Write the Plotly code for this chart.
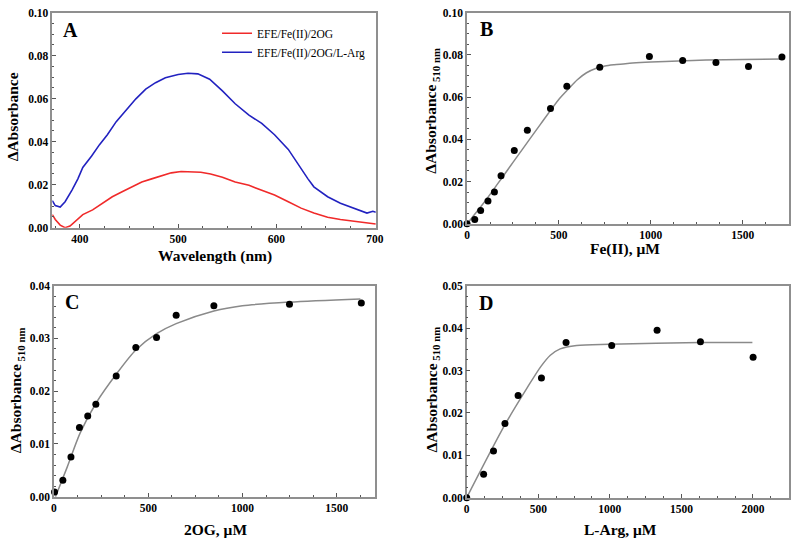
import plotly.graph_objects as go

# ---------------- Panel A: difference spectra ----------------
spec_nm_blue = [372, 375, 380, 385, 392, 398, 403, 412, 420, 428, 437, 447, 457, 467, 477, 487,
                500, 510, 520, 532, 545, 558, 572, 585, 598, 612, 625, 632, 638, 645, 652, 665,
                678, 692, 698, 701]
spec_blue = [0.0126, 0.0103, 0.0096, 0.0121, 0.0175, 0.0227, 0.0280, 0.0333, 0.0386, 0.0432,
             0.0493, 0.0545, 0.0599, 0.0644, 0.0674, 0.0697, 0.0712, 0.0718, 0.0715, 0.0690,
             0.0636, 0.0576, 0.0523, 0.0485, 0.0432, 0.0364, 0.0273, 0.0227, 0.0190, 0.0167,
             0.0144, 0.0114, 0.0091, 0.0068, 0.0076, 0.0072]
spec_nm_red = [372, 375, 380, 385, 390, 397, 403, 413, 423, 433, 443, 453, 463, 473, 483, 493,
               503, 513, 523, 533, 545, 558, 572, 585, 598, 612, 625, 638, 652, 665, 678, 692,
               698, 701]
spec_red = [0.0061, 0.0038, 0.0012, 0.0000, 0.0008, 0.0038, 0.0061, 0.0083, 0.0114, 0.0144,
            0.0167, 0.0189, 0.0212, 0.0227, 0.0242, 0.0255, 0.0261, 0.0258, 0.0258, 0.0250,
            0.0235, 0.0212, 0.0197, 0.0174, 0.0152, 0.0121, 0.0091, 0.0068, 0.0049, 0.0038,
            0.0030, 0.0023, 0.0018, 0.0017]

# ---------------- Panel B: Fe(II) titration ----------------
fe_conc = [0, 42, 74, 114, 149, 185, 257, 328, 454, 543, 722, 992, 1173, 1354, 1531, 1713]
fe_abs = [0.0000, 0.0020, 0.0063, 0.0108, 0.0151, 0.0227, 0.0347, 0.0443, 0.0546, 0.0651,
          0.0741, 0.0792, 0.0773, 0.0764, 0.0745, 0.0789]
fe_fit_x = [0, 100, 200, 300, 400, 500, 550, 600, 650, 700, 750, 800, 850, 900, 1000, 1150,
            1300, 1500, 1715]
fe_fit_y = [0.0000, 0.0109, 0.0230, 0.0351, 0.0472, 0.0590, 0.0637, 0.0682, 0.0715, 0.0735,
            0.0747, 0.0753, 0.0757, 0.0761, 0.0766, 0.0771, 0.0775, 0.0778, 0.0780]

# ---------------- Panel C: 2OG titration ----------------
og_conc = [3, 47, 90, 135, 179, 222, 330, 434, 544, 648, 848, 1249, 1630]
og_abs = [0.0009, 0.0031, 0.0075, 0.0131, 0.0153, 0.0175, 0.0229, 0.0283, 0.0302, 0.0344,
          0.0362, 0.0365, 0.0367]
og_fit_x = [8, 70, 139, 226, 330, 434, 544, 648, 848, 999, 1249, 1625]
og_fit_y = [0.0000, 0.0056, 0.0121, 0.0179, 0.0232, 0.0278, 0.0309, 0.0328, 0.0352, 0.0362,
            0.0369, 0.0375]

# ---------------- Panel D: L-Arg titration ----------------
arg_conc = [0, 118, 187, 267, 359, 522, 694, 1013, 1330, 1633, 2001]
arg_abs = [0.0000, 0.0055, 0.0110, 0.0175, 0.0241, 0.0282, 0.0366, 0.0359, 0.0395, 0.0368, 0.0331]
arg_fit_x = [0, 267, 424, 515, 584, 653, 768, 997, 1633, 1996]
arg_fit_y = [0.0000, 0.0172, 0.0260, 0.0308, 0.0336, 0.0351, 0.0359, 0.0362, 0.0366, 0.0366]

# ---------------- labels ----------------
legend_names = ["EFE/Fe(II)/2OG", "EFE/Fe(II)/2OG/L-Arg"]
panel_letters = ["A", "B", "C", "D"]
x_titles = ["Wavelength (nm)", "Fe(II), μM", "2OG, μM", "L-Arg, μM"]
y_titles = ["ΔAbsorbance", "ΔAbsorbance<sub> 510 nm</sub>",
            "ΔAbsorbance<sub> 510 nm</sub>", "ΔAbsorbance<sub> 510 nm</sub>"]

W, H = 800, 545
SERIF = "Liberation Serif"
FRAME = "#8f8f8f"
TICKC = "#555555"
FIT_COLOR = "#8a8a8a"


def px_x(v):
    return v / W


def px_y(v):
    return 1 - v / H


fig = go.Figure()

# Panel A
fig.add_trace(go.Scatter(x=spec_nm_red, y=spec_red, mode="lines", name=legend_names[0],
                         line=dict(color="#f02a2a", width=1.6), xaxis="x", yaxis="y"))
fig.add_trace(go.Scatter(x=spec_nm_blue, y=spec_blue, mode="lines", name=legend_names[1],
                         line=dict(color="#2222c0", width=1.6), xaxis="x", yaxis="y"))

# Panel B-D
for (fx, fy, cx, cy, ax) in [(fe_fit_x, fe_fit_y, fe_conc, fe_abs, 2),
                             (og_fit_x, og_fit_y, og_conc, og_abs, 3),
                             (arg_fit_x, arg_fit_y, arg_conc, arg_abs, 4)]:
    fig.add_trace(go.Scatter(x=fx, y=fy, mode="lines", line=dict(color=FIT_COLOR, width=1.5,
                                                                  shape="spline", smoothing=0.8),
                             showlegend=False, xaxis=f"x{ax}", yaxis=f"y{ax}"))
    fig.add_trace(go.Scatter(x=cx, y=cy, mode="markers", marker=dict(color="black", size=7),
                             cliponaxis=False, showlegend=False, xaxis=f"x{ax}", yaxis=f"y{ax}"))

# plot areas in pixels: (left, right, top, bottom)
boxes = [(50, 378, 6.7, 226.7), (470.5, 796.7, 6.7, 222.7),
         (51.7, 376.7, 286, 501.7), (470.2, 796.7, 286, 502.7)]
xranges = [[372, 701], [0, 1750], [0, 1700], [0, 2250]]
yranges = [[0, 0.10], [0, 0.10], [0, 0.04], [0, 0.05]]
xdt = [100, 500, 500, 500]
xminor = [25, 125, 125, 125]
ydt = [0.02, 0.02, 0.01, 0.01]
yminor = [0.005, 0.005, 0.002, 0.0025]

tickfont = dict(family=SERIF, size=11.5, color="black", weight="bold")
layout = dict(width=W, height=H, margin=dict(l=0, r=0, t=0, b=0),
              paper_bgcolor="white", plot_bgcolor="white", showlegend=True,
              legend=dict(x=px_x(217), y=px_y(13), xanchor="left", yanchor="top",
                          bgcolor="rgba(0,0,0,0)", itemwidth=30,
                          font=dict(family=SERIF, size=11.5, color="black")))

for i in range(4):
    l, r, t, b = boxes[i]
    n = i + 1
    sfx = "" if n == 1 else str(n)
    layout[f"xaxis{sfx}"] = dict(domain=[px_x(l), px_x(r)], anchor=f"y{sfx}", range=xranges[i],
                                 dtick=xdt[i], tick0=0, ticks="inside", ticklen=4, tickwidth=1,
                                 tickcolor=TICKC, showline=True, linecolor=FRAME, linewidth=1.5,
                                 mirror=True, showgrid=False, zeroline=False, tickfont=tickfont,
                                 minor=dict(dtick=xminor[i], tick0=0, ticks="inside", ticklen=2,
                                            tickcolor=TICKC, showgrid=False))
    layout[f"yaxis{sfx}"] = dict(domain=[px_y(b), px_y(t)], anchor=f"x{sfx}", range=yranges[i],
                                 dtick=ydt[i], tick0=0, ticks="inside", ticklen=4, tickwidth=1,
                                 tickcolor=TICKC, showline=True, linecolor=FRAME, linewidth=1.5,
                                 mirror=True, showgrid=False, zeroline=False, tickfont=tickfont,
                                 tickformat=".2f",
                                 minor=dict(dtick=yminor[i], tick0=0, ticks="inside", ticklen=2,
                                            tickcolor=TICKC, showgrid=False))
    # overlay axes giving the outward half of the crossing ticks
    m = n + 4
    layout[f"xaxis{m}"] = dict(overlaying=f"x{sfx}", anchor=f"y{sfx}", side="bottom",
                               range=xranges[i], dtick=xdt[i], tick0=0, ticks="outside",
                               ticklen=4, tickwidth=1, tickcolor=TICKC, showticklabels=False,
                               showline=False, showgrid=False, zeroline=False,
                               minor=dict(dtick=xminor[i], tick0=0, ticks="outside", ticklen=2,
                                          tickcolor=TICKC, showgrid=False))
    layout[f"yaxis{m}"] = dict(overlaying=f"y{sfx}", anchor=f"x{sfx}", side="left",
                               range=yranges[i], dtick=ydt[i], tick0=0, ticks="outside",
                               ticklen=4, tickwidth=1, tickcolor=TICKC, showticklabels=False,
                               showline=False, showgrid=False, zeroline=False,
                               minor=dict(dtick=yminor[i], tick0=0, ticks="outside", ticklen=2,
                                          tickcolor=TICKC, showgrid=False))

fig.update_layout(**layout)

# axis titles and panel letters as text annotations
xt_pos = [(215, 256), (631, 248), (215, 535), (626, 535)]
yt_pos = [(10, 113), (435, 107), (14, 393), (435, 392)]
letter_pos = [(68, 25), (490, 24), (70, 303), (490, 304)]
title_font = dict(family=SERIF, size=15.5, color="black", weight="bold")
for i in range(4):
    fig.add_annotation(text=x_titles[i], x=px_x(xt_pos[i][0]), y=px_y(xt_pos[i][1]),
                       xref="paper", yref="paper", showarrow=False, xanchor="center",
                       yanchor="middle", font=title_font)
    fig.add_annotation(text=y_titles[i], x=px_x(yt_pos[i][0]), y=px_y(yt_pos[i][1]),
                       xref="paper", yref="paper", showarrow=False, xanchor="center",
                       yanchor="middle", textangle=-90, font=title_font)
    fig.add_annotation(text=panel_letters[i], x=px_x(letter_pos[i][0]),
                       y=px_y(letter_pos[i][1]), xref="paper", yref="paper", showarrow=False,
                       xanchor="center", yanchor="middle",
                       font=dict(family=SERIF, size=20, color="black", weight="bold"))

# remove the browser's default 8px body margin so the figure sits at the page origin
fig.write_html("out.html", config={"displayModeBar": False},
               post_script="document.body.style.margin='0';document.body.style.padding='0';")
